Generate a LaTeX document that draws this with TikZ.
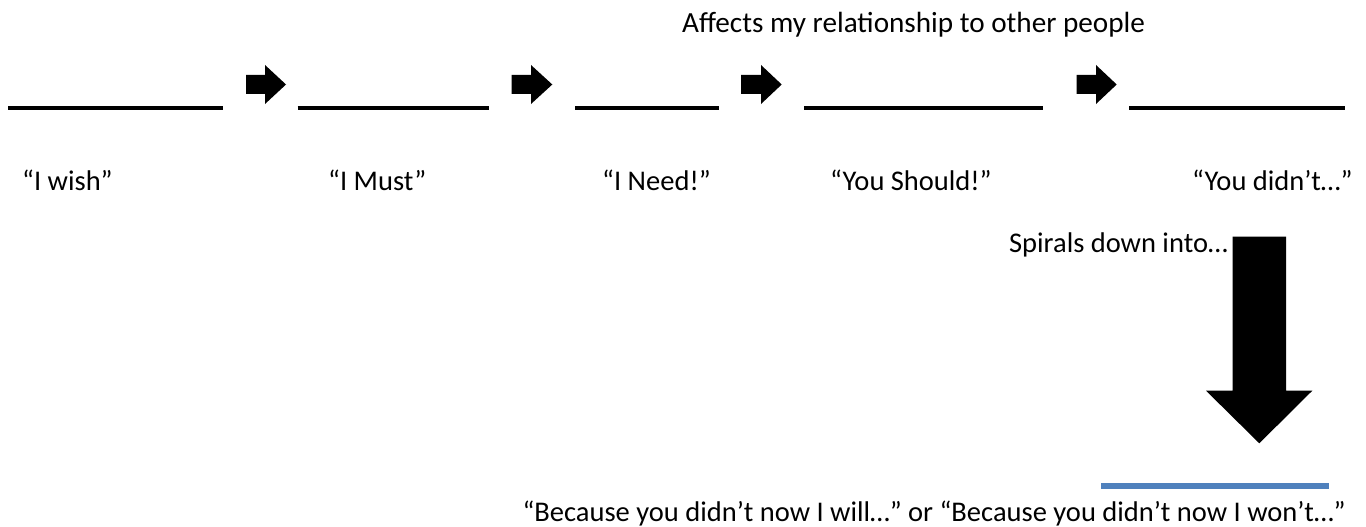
\documentclass[tikz,border=0pt]{standalone}
\usepackage{fontspec}
\setmainfont{Carlito}
\definecolor{lineblue}{RGB}{79,129,189}
\begin{document}
\begin{tikzpicture}[x=1pt,y=-1pt,
  lbl/.style={anchor=base west,inner sep=0pt,font=\fontsize{28.5}{33}\selectfont},
  lblr/.style={lbl,anchor=base east},
  blank/.style={line width=4pt,black},
  blockarrow/.style={fill=black,draw=none}]
\useasboundingbox (0,0) rectangle (1366,527);
% top caption
\node[lbl,font=\fontsize{29.2}{34}\selectfont] (affects) at (682,33) {Affects my relationship to other people};
% blanks
\draw[blank] (8,107.7) -- (223,107.7);
\draw[blank] (297.7,107.7) -- (489.3,107.7);
\draw[blank] (575,107.7) -- (718.7,107.7);
\draw[blank] (804.3,107.7) -- (1043.3,107.7);
\draw[blank] (1129,107.7) -- (1345,107.7);
% right block arrows
\foreach \a/\b/\t in {246/265/286, 511.7/531/552.3, 741/761/781.7, 1076.7/1096/1116.7}{
  \fill[blockarrow] (\a,75) -- (\b,75) -- (\b,65) -- (\t,84.5) -- (\b,104) -- (\b,94) -- (\a,94) -- cycle;
}
% labels
\node[lbl] (wish) at (22,190) {“I wish”};
\node[lbl] (must) at (328,190) {“I Must”};
\node[lbl] (need) at (602,190) {“I Need!”};
\node[lbl] (should) at (830,190) {“You Should!”};
\node[lbl] (didnt) at (1192,190) {“You didn’t…”};
\node[lblr] (spirals) at (1228,252) {Spirals down into…};
% down block arrow
\fill[blockarrow] (1232.5,236.7) -- (1286,236.7) -- (1286,390.7) -- (1312.3,390.7) -- (1259.3,443.3) -- (1206,390.7) -- (1232.5,390.7) -- cycle;
% blue line
\draw[line width=6pt,lineblue] (1101,485.5) -- (1328.7,485.5);
\node[lblr] (because) at (1346,521) {“Because you didn’t now I will…” or “Because you didn’t now I won’t…”};
\end{tikzpicture}
\end{document}
